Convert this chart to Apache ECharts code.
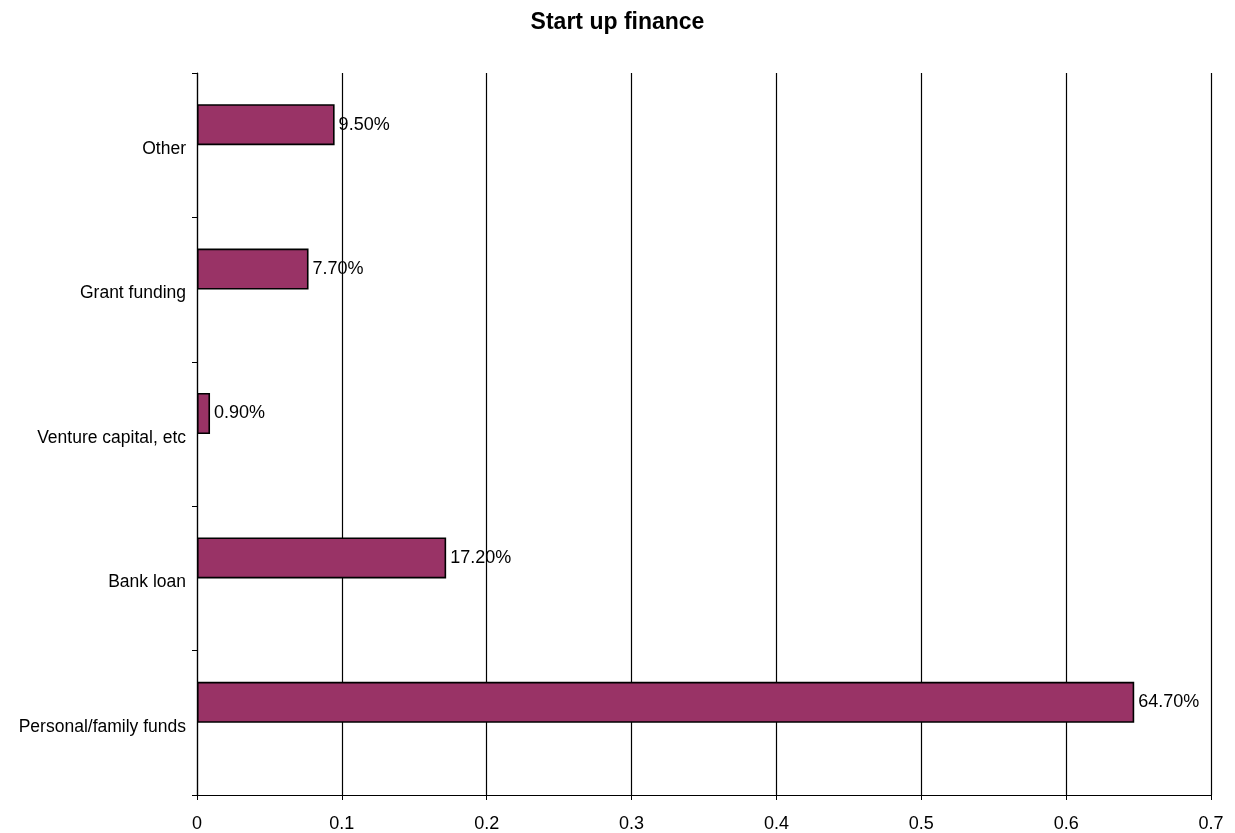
<!DOCTYPE html>
<html>
<head>
<meta charset="utf-8">
<title>Start up finance</title>
<script src="https://cdn.jsdelivr.net/npm/echarts@6/dist/echarts.min.js"></script>
<style>
  html, body { margin: 0; padding: 0; background: #ffffff; }
  #chart { width: 1235px; height: 833px; }
</style>
</head>
<body>
<div id="chart"></div>
<script>
// Funding sources, listed bottom to top as they appear on the category axis
const categories = ['Personal/family funds', 'Bank loan', 'Venture capital, etc', 'Grant funding', 'Other'];
// Share of start-ups using each source
const shares = [0.647, 0.172, 0.009, 0.077, 0.095];
// Value axis ticks
const axisMin = 0;
const axisMax = 0.7;
const axisStep = 0.1;

const font = '"Liberation Sans", Arial, sans-serif';

const chart = echarts.init(document.getElementById('chart'), null, { renderer: 'canvas' });

chart.setOption({
  backgroundColor: '#ffffff',
  animation: false,
  title: {
    text: 'Start up finance',
    left: 'center',
    top: 6,
    textStyle: { fontFamily: font, fontSize: 23, fontWeight: 'bold', color: '#000000' }
  },
  grid: { left: 197, right: 24, top: 73, bottom: 38, containLabel: false },
  xAxis: {
    type: 'value',
    min: axisMin,
    max: axisMax,
    interval: axisStep,
    axisLine: { show: true, lineStyle: { color: '#000000', width: 1.2 } },
    axisTick: { show: true, length: 5, lineStyle: { color: '#000000' } },
    axisLabel: {
      color: '#000000', fontFamily: font, fontSize: 18, margin: 20,
      formatter: v => String(parseFloat(v.toFixed(1)))
    },
    splitLine: { show: true, lineStyle: { color: '#000000', width: 1.2 } }
  },
  yAxis: {
    type: 'category',
    data: categories,
    axisLine: { show: true, onZero: false, lineStyle: { color: '#000000', width: 1.2 } },
    axisTick: { show: true, length: 5, alignWithLabel: false, lineStyle: { color: '#000000' } },
    axisLabel: {
      color: '#000000', fontFamily: font, fontSize: 17.5, margin: 11,
      verticalAlign: 'top', lineHeight: 8
    },
    splitLine: { show: false }
  },
  series: [
    {
      name: 'Share',
      type: 'bar',
      data: shares,
      barWidth: 41,
      barGap: '0%',
      itemStyle: { color: '#993366', borderColor: '#000000', borderWidth: 1.6 },
      label: {
        show: true,
        position: 'right',
        distance: 4,
        color: '#000000',
        fontFamily: font,
        fontSize: 18,
        formatter: p => (p.value * 100).toFixed(2) + '%'
      }
    },
    {
      // second slot in each category is left empty
      name: 'Blank',
      type: 'bar',
      data: [],
      barWidth: 41,
      barGap: '0%'
    }
  ]
});
</script>
</body>
</html>
